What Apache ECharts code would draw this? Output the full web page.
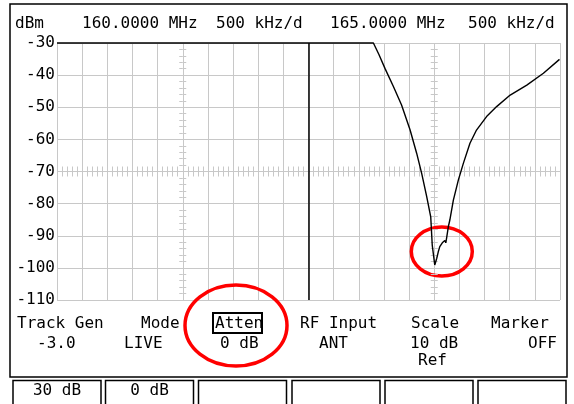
<!DOCTYPE html>
<html>
<head>
<meta charset="utf-8">
<script src="https://cdn.jsdelivr.net/npm/echarts@6/dist/echarts.min.js"></script>
<style>
  html, body { margin: 0; padding: 0; background: #fff; }
  #chart { width: 574px; height: 404px; }
</style>
</head>
<body>
<div id="chart"></div>
<script>
// Spectrum trace: frequency (MHz) and level (dBm)
const freqMHz = [157.5, 163.79, 163.9, 164.02, 164.19, 164.35, 164.52, 164.65, 164.75, 164.85, 164.93,
  164.96, 165.01, 165.05, 165.08, 165.11, 165.13, 165.16, 165.19, 165.21, 165.23, 165.25,
  165.28, 165.31, 165.38, 165.48, 165.58, 165.71, 165.84, 166.04, 166.24, 166.51, 166.84,
  167.17, 167.49];
const levelDbm = [-30, -30, -33.6, -37.9, -43.6, -49.3, -57.1, -64.3, -70.6, -77.8, -84.1,
  -92.9, -99.1, -97.0, -95.0, -93.4, -93.9, -92.2, -92.6, -91.5, -92.2, -90.3,
  -87.2, -85.1, -78.9, -72.6, -67.4, -61.2, -57.1, -52.9, -49.8, -46.2, -43.1,
  -39.4, -35.1];

// Display layout: two 10-division panes, 500 kHz per division
const spanStartMHz = 157.5;
const spanEndMHz = 167.5;
const divisionMHz = 0.5;
const paneSplitMHz = 162.5;
const paneCentresMHz = [160, 165];
const levelTicks = [-110, -100, -90, -80, -70, -60, -50, -40, -30];
const centreLevelDbm = -70;

// Header and status texts
const headerTexts = ['dBm', '160.0000 MHz', '500 kHz/d', '165.0000 MHz', '500 kHz/d'];
const statusTitles = ['Track Gen', 'Mode', 'Atten', 'RF Input', 'Scale', 'Marker'];
const statusValues = ['-3.0', 'LIVE', '0 dB', 'ANT', '10 dB', 'OFF'];
const statusExtra = ['Ref'];
const softkeyLabels = ['30 dB', '0 dB', '', '', '', ''];

const FONT = '16px "DejaVu Sans Mono", monospace';
const GRID_COLOR = '#c8c8c8';
const grid = { left: 57, top: 43, right: 14, bottom: 104 };

const chart = echarts.init(document.getElementById('chart'), null, { renderer: 'canvas' });

const yMin = levelTicks[0], yMax = levelTicks[levelTicks.length - 1];
const plotW = 574 - grid.left - grid.right;
const plotH = 404 - grid.top - grid.bottom;
const xPx = f => grid.left + (f - spanStartMHz) / (spanEndMHz - spanStartMHz) * plotW;
const yOffsetCentre = -(plotH - (yMax - centreLevelDbm) / (yMax - yMin) * plotH);

function centreYAxis(f, inside) {
  return {
    type: 'value', min: yMin, max: yMax, interval: 2, position: 'left',
    offset: -(xPx(f) - grid.left),
    axisLine: { show: false },
    axisTick: { show: true, inside: inside, length: 3.5, lineStyle: { color: GRID_COLOR, width: 1 } },
    axisLabel: { show: false }, splitLine: { show: false }
  };
}
function centreXAxis(inside) {
  return {
    type: 'value', min: spanStartMHz, max: spanEndMHz, interval: 0.1, position: 'bottom',
    offset: yOffsetCentre,
    axisLine: { show: false },
    axisTick: { show: true, inside: inside, length: 5, lineStyle: { color: GRID_COLOR, width: 1 } },
    axisLabel: { show: false }, splitLine: { show: false }
  };
}

chart.setOption({
  animation: false,
  backgroundColor: '#ffffff',
  grid: grid,
  xAxis: [
    {
      type: 'value', min: spanStartMHz, max: spanEndMHz, interval: divisionMHz,
      axisLine: { show: false }, axisTick: { show: false }, axisLabel: { show: false },
      splitLine: { show: true, lineStyle: { color: GRID_COLOR, width: 1 } }
    },
    centreXAxis(false),
    centreXAxis(true)
  ],
  yAxis: [
    {
      type: 'value', min: yMin, max: yMax, interval: 10,
      axisLine: { show: false }, axisTick: { show: false },
      axisLabel: { show: true, margin: 2, color: '#000', fontFamily: '"DejaVu Sans Mono", monospace', fontSize: 16 },
      splitLine: { show: true, lineStyle: { color: GRID_COLOR, width: 1 } }
    },
    centreYAxis(paneCentresMHz[0], false),
    centreYAxis(paneCentresMHz[0], true),
    centreYAxis(paneCentresMHz[1], false),
    centreYAxis(paneCentresMHz[1], true)
  ],
  series: [{
    type: 'line',
    xAxisIndex: 0, yAxisIndex: 0,
    data: freqMHz.map((f, i) => [f, levelDbm[i]]),
    symbol: 'none',
    clip: false,
    lineStyle: { color: '#000', width: 1.4 },
    markLine: {
      silent: true, symbol: 'none', label: { show: false },
      lineStyle: { color: '#000', width: 1.5, type: 'solid' },
      data: [{ xAxis: paneSplitMHz }]
    }
  }]
});

// Screen furniture: frame, readouts, softkeys and highlight rings
function text(x, y, s) {
  return { type: 'text', silent: true, style: { x: x, y: y, text: s, font: FONT, fill: '#000', verticalAlign: 'middle' } };
}
const g = [];
g.push({ type: 'rect', silent: true, shape: { x: 10, y: 4, width: 557, height: 373 },
  style: { fill: null, stroke: '#000', lineWidth: 1.5 } });

const headerX = [15, 82, 216, 330, 468];
headerTexts.forEach((s, i) => g.push(text(headerX[i], 24, s)));

const titleX = [17, 141, 215, 300, 411, 491];
statusTitles.forEach((s, i) => g.push(text(titleX[i], 324, s)));
const valueX = [37, 124, 220, 319, 410, 528];
statusValues.forEach((s, i) => g.push(text(valueX[i], 344, s)));
g.push(text(418, 361, statusExtra[0]));
// highlighted "Atten" softkey title
g.push({ type: 'rect', silent: true, shape: { x: 213, y: 313, width: 49, height: 20 },
  style: { fill: null, stroke: '#000', lineWidth: 2 } });

const keyX = [13, 105.5, 198.5, 292, 385, 478];
softkeyLabels.forEach((s, i) => {
  g.push({ type: 'rect', silent: true, shape: { x: keyX[i], y: 380.5, width: 88, height: 30 },
    style: { fill: null, stroke: '#000', lineWidth: 1.5 } });
  if (s) g.push({ type: 'text', silent: true, style: { x: keyX[i] + 44, y: 391, text: s, font: FONT,
    fill: '#000', align: 'center', verticalAlign: 'middle' } });
});

g.push({ type: 'ellipse', silent: true, shape: { cx: 236, cy: 325.5, rx: 51, ry: 40.5 },
  style: { fill: null, stroke: '#ff0000', lineWidth: 3.5 } });
const dip = chart.convertToPixel({ gridIndex: 0 }, [165.15, -94.9]);
g.push({ type: 'ellipse', silent: true, shape: { cx: dip[0], cy: dip[1], rx: 30.5, ry: 24.5 },
  style: { fill: null, stroke: '#ff0000', lineWidth: 3.5 } });

chart.setOption({ graphic: g });
</script>
</body>
</html>
